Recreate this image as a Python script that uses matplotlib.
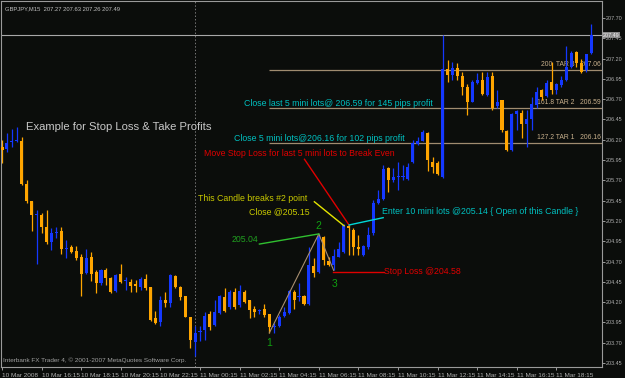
import matplotlib
matplotlib.use('Agg')
import matplotlib.pyplot as plt
import numpy as np

# GBPJPY M15 bars, 10 Mar 14:15 .. 11 Mar 20:00
opens = [206.11, 206.09, 206.17, 206.18, 206.18, 205.66, 205.44, 205.27, 205.27, 205.12,
         204.94, 205.05, 205.08, 204.86, 204.88, 204.83, 204.76, 204.56, 204.76, 204.57,
         204.43, 204.60, 204.50, 204.34, 204.55, 204.46, 204.45, 204.42, 204.38, 204.48,
         204.38, 204.00, 203.95, 204.22, 204.19, 204.52, 204.39, 204.27, 204.02, 203.71,
         203.83, 203.86, 204.05, 203.92, 204.06, 204.26, 204.14, 204.32, 204.16, 204.32,
         204.22, 204.12, 204.09, 204.11, 204.05, 203.89, 203.90, 204.03, 204.06, 204.33,
         204.26, 204.28, 204.18, 204.64, 204.57, 205.00, 204.71, 204.66, 204.76, 204.82,
         205.14, 205.09, 204.88, 204.78, 204.88, 205.05, 205.42, 205.47, 205.85, 205.70,
         205.74, 205.74, 205.72, 205.93, 206.15, 206.19, 206.28, 205.93, 205.91, 205.74,
         207.07, 207.00, 207.08, 206.98, 206.85, 206.67, 206.90, 206.94, 206.75, 206.98,
         206.61, 206.69, 206.31, 206.08, 206.52, 206.53, 206.39, 206.46, 206.63, 206.81,
         206.74, 206.91, 206.81, 206.87, 206.94, 207.10, 207.28, 207.14, 207.06, 207.27]
highs = [206.20, 206.28, 206.33, 206.36, 206.23, 205.71, 205.45, 205.34, 205.30, 205.33,
         205.11, 205.12, 205.12, 204.97, 204.90, 204.89, 204.79, 204.85, 204.82, 204.60,
         204.61, 204.62, 204.51, 204.55, 204.67, 204.51, 204.49, 204.47, 204.51, 204.55,
         204.38, 204.09, 204.28, 204.32, 204.55, 204.53, 204.40, 204.28, 204.02, 203.90,
         203.90, 204.08, 204.09, 204.23, 204.29, 204.37, 204.35, 204.37, 204.41, 204.35,
         204.23, 204.15, 204.12, 204.18, 204.05, 203.94, 204.04, 204.14, 204.35, 204.35,
         204.43, 204.29, 204.88, 204.74, 205.04, 205.01, 204.76, 204.85, 204.94, 205.16,
         205.16, 205.11, 205.03, 204.90, 205.13, 205.46, 205.58, 205.89, 205.87, 205.85,
         205.92, 205.89, 205.91, 206.20, 206.24, 206.32, 206.30, 205.99, 205.94, 207.49,
         207.18, 207.16, 207.15, 207.03, 206.89, 206.94, 207.02, 207.03, 207.03, 207.04,
         206.81, 206.69, 206.32, 206.53, 206.57, 206.57, 206.57, 206.73, 206.85, 206.83,
         206.94, 207.16, 206.90, 206.98, 207.35, 207.30, 207.30, 207.20, 207.26, 207.63]
lows = [205.91, 206.05, 206.11, 206.17, 205.64, 205.42, 205.07, 204.67, 205.05, 204.92,
        204.84, 204.99, 204.79, 204.74, 204.81, 204.72, 204.27, 204.55, 204.46, 204.31,
        204.41, 204.41, 204.31, 204.33, 204.43, 204.35, 204.32, 204.32, 204.35, 204.35,
        203.97, 203.93, 203.90, 204.14, 204.14, 204.37, 204.22, 204.01, 203.64, 203.53,
        203.72, 203.73, 203.86, 203.90, 204.05, 204.08, 204.12, 204.12, 204.14, 204.19,
        204.00, 204.01, 204.05, 204.01, 203.82, 203.82, 203.89, 204.01, 204.05, 204.11,
        204.21, 204.16, 204.16, 204.51, 204.56, 204.66, 204.64, 204.59, 204.75, 204.81,
        204.78, 204.78, 204.78, 204.77, 204.86, 205.03, 205.41, 205.46, 205.56, 205.68,
        205.58, 205.70, 205.70, 205.91, 206.13, 206.19, 205.81, 205.79, 205.77, 205.73,
        206.91, 206.94, 206.94, 206.75, 206.50, 206.66, 206.89, 206.75, 206.74, 206.57,
        206.59, 206.30, 206.06, 206.06, 206.32, 206.22, 206.11, 206.32, 206.59, 206.69,
        206.73, 206.77, 206.77, 206.85, 206.93, 207.09, 207.10, 207.02, 207.04, 207.26]
closes = [206.08, 206.16, 206.18, 206.19, 205.65, 205.44, 205.27, 205.28, 205.12, 204.94,
          205.05, 205.06, 204.86, 204.87, 204.82, 204.74, 204.55, 204.74, 204.55, 204.44,
          204.60, 204.50, 204.32, 204.53, 204.45, 204.47, 204.40, 204.40, 204.49, 204.37,
          203.98, 203.94, 204.22, 204.19, 204.53, 204.38, 204.26, 204.02, 203.73, 203.82,
          203.84, 204.03, 203.89, 204.08, 204.27, 204.09, 204.32, 204.14, 204.34, 204.20,
          204.10, 204.08, 204.10, 204.04, 203.89, 203.90, 204.02, 204.08, 204.34, 204.23,
          204.27, 204.18, 204.66, 204.56, 205.01, 204.72, 204.66, 204.77, 204.86, 205.15,
          205.11, 204.88, 204.86, 204.89, 205.03, 205.42, 205.47, 205.84, 205.70, 205.74,
          205.75, 205.75, 205.87, 206.16, 206.19, 206.30, 205.95, 205.87, 205.78, 207.07,
          207.00, 207.09, 206.98, 206.85, 206.66, 206.91, 206.94, 206.76, 206.97, 206.59,
          206.67, 206.32, 206.08, 206.52, 206.56, 206.40, 206.46, 206.64, 206.79, 206.73,
          206.90, 206.81, 206.89, 206.94, 207.10, 207.27, 207.14, 207.04, 207.26, 207.49]

time_labels = ['10 Mar 2008', '10 Mar 16:15', '10 Mar 18:15', '10 Mar 20:15', '10 Mar 22:15',
               '11 Mar 00:15', '11 Mar 02:15', '11 Mar 04:15', '11 Mar 06:15', '11 Mar 08:15',
               '11 Mar 10:15', '11 Mar 12:15', '11 Mar 14:15', '11 Mar 16:15', '11 Mar 18:15']
price_ticks = [203.45, 203.70, 203.95, 204.20, 204.45, 204.70, 204.95, 205.20, 205.45,
               205.70, 205.95, 206.20, 206.45, 206.70, 206.95, 207.20, 207.45, 207.70]

targets = [('127.2 TAR 1', 206.16), ('161.8 TAR 2', 206.59), ('200  TAR 3', 207.06)]
last_price = 207.49

BG = '#0b0d0b'
UP = '#1438ff'
DOWN = '#ffa500'
SMALL = ['Liberation Sans Narrow', 'Liberation Sans']

fig = plt.figure(figsize=(6.25, 3.78), dpi=100, facecolor=BG)
ax = fig.add_axes([1 / 625, 11 / 378, 601 / 625, 366 / 378], facecolor=BG)

x = np.arange(len(opens))
o = np.array(opens); c = np.array(closes)
colors = [UP if cc >= oo else DOWN for oo, cc in zip(o, c)]
ax.vlines(x, lows, highs, colors=colors, lw=0.9, zorder=2)
body = np.maximum(np.abs(c - o), 0.012)
ax.bar(x, body, bottom=np.minimum(o, c), width=0.62, color=colors, lw=0, zorder=3)

ax.set_xlim(-0.2, 121.2)
ax.set_ylim(203.40, 207.91)

# day separator
ax.axvline(39, color='#777777', lw=0.7, ls=(0, (1.5, 2)), zorder=1)
# current price line
ax.axhline(last_price, color='#a8a8a8', lw=0.8, zorder=1)

# targets (drawn under the candles)
for name, lvl in targets:
    ax.hlines(lvl, 54, 121.2, color='#a08c70', lw=0.9, zorder=1)
    ax.text(120.9, lvl + 0.02, f'{name}   {lvl:.2f}', color='#c8b08c', fontsize=4.9,
            family=SMALL, ha='right', va='bottom', zorder=1.5)

# zigzag 1-2-3
ax.plot([54, 64, 67], [lows[54], highs[64], lows[67]], color='#a88f70', lw=0.8, zorder=4)
ax.plot([52.0, 64.0], [204.915, highs[64]], color='#30c030', lw=1.0, zorder=4)
ax.plot([63.1, 69.1], [205.436, 205.14], color='#e6e600', lw=1.0, zorder=4)
ax.plot([61.1, 70.1], [205.96, 205.15], color='#e00000', lw=1.0, zorder=4)
ax.plot([70.1, 77.0], [205.15, 205.24], color='#00d8d8', lw=1.0, zorder=4)
ax.plot([66.9, 77.2], [204.57, 204.57], color='#e00000', lw=1.0, zorder=4)

ann = 6.3
ax.text(4.85, 206.356, 'Example for Stop Loss & Take Profits', color='#c8c8c8', fontsize=8.1,
        family='Liberation Sans', va='center')
ax.text(48.9, 206.652, 'Close last 5 mini lots@ 206.59 for 145 pips profit', color='#00c0c0',
        fontsize=ann, family='Liberation Sans', va='center', zorder=5)
ax.text(46.9, 206.221, 'Close 5 mini lots@206.16 for 102 pips profit', color='#00c0c0',
        fontsize=ann, family='Liberation Sans', va='center', zorder=5)
ax.text(40.8, 206.036, 'Move Stop Loss for last 5 mini lots to Break Even', color='#e00000',
        fontsize=ann, family='Liberation Sans', va='center', zorder=5)
ax.text(39.6, 205.482, 'This Candle breaks #2 point', color='#c8c800',
        fontsize=ann, family='Liberation Sans', va='center', zorder=5)
ax.text(49.9, 205.310, 'Close @205.15', color='#c8c800',
        fontsize=ann, family='Liberation Sans', va='center', zorder=5)
ax.text(46.3, 204.977, '205.04', color='#20a020',
        fontsize=ann, family='Liberation Sans', va='center', zorder=5)
ax.text(76.8, 205.322, 'Enter 10 mini lots @205.14 { Open of this Candle }', color='#00c0c0',
        fontsize=ann, family='Liberation Sans', va='center', zorder=5)
ax.text(77.2, 204.571, 'Stop Loss @204.58', color='#e00000',
        fontsize=ann, family='Liberation Sans', va='center', zorder=5)
for lbl, bx, py in [('1', 53.9, 203.696), ('2', 64.0, 205.137), ('3', 67.1, 204.423)]:
    ax.text(bx, py, lbl, color='#10a010', fontsize=7.5, family='Liberation Sans',
            ha='center', va='center', zorder=5)

ax.text(0.006, 0.985, 'GBPJPY,M15  207.27 207.63 207.26 207.49', transform=ax.transAxes,
        color='#c0c0c0', fontsize=4.2, family=SMALL, va='top')
ax.text(0.004, 0.012, 'Interbank FX Trader 4, \u00a9 2001-2007 MetaQuotes Software Corp.',
        transform=ax.transAxes, color='#a0a0a0', fontsize=4.6, family=SMALL, va='bottom')

# axes styling
for s in ax.spines.values():
    s.set_color('#9a9a9a')
    s.set_linewidth(0.8)
ax.yaxis.tick_right()
ax.set_yticks(price_ticks)
ax.set_yticklabels([f'{p:.2f}' for p in price_ticks])
ax.set_xticks(np.arange(0, 120, 8))
ax.set_xticklabels(time_labels)
ax.tick_params(axis='both', colors='#9a9a9a', labelcolor='#b0b0b0', labelsize=4.6,
               length=2.5, width=0.7, pad=1.5)
ax.tick_params(axis='y', labelsize=3.9, length=2, pad=1.0)
for t in ax.get_xticklabels():
    t.set_ha('left')
    t.set_family(SMALL)
for t in ax.get_yticklabels():
    t.set_family(SMALL)

ax.text(1.002, last_price, f'{last_price:.2f}', transform=ax.get_yaxis_transform(),
        color='#f0f0f0', fontsize=3.9, family=SMALL, va='center', ha='left', clip_on=False,
        zorder=10, bbox=dict(boxstyle='square,pad=0.12', fc='#8a8a8a', ec='none'))

fig.savefig('out.png', dpi=100, facecolor=BG)
